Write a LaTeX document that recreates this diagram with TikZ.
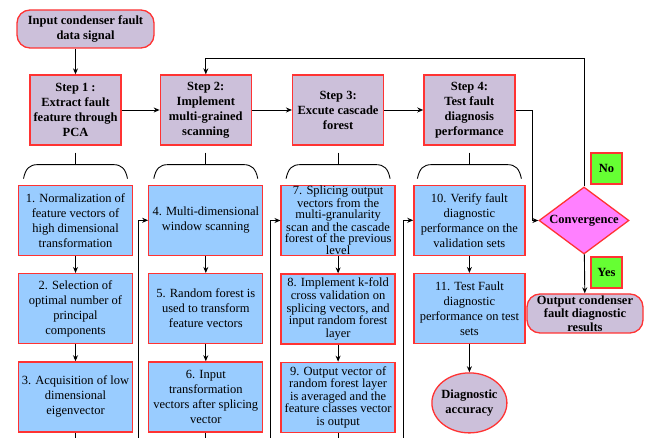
\documentclass[tikz,border=0pt]{standalone}
\usepackage{fontspec}
\setmainfont{Liberation Serif}
\usepackage{tikz}
\usetikzlibrary{shapes.geometric, arrows.meta, positioning}
\definecolor{steplilac}{RGB}{204,192,218}
\definecolor{taskblue}{RGB}{153,204,255}
\definecolor{edgered}{RGB}{255,51,51}
\definecolor{answergreen}{RGB}{102,255,51}
\definecolor{decisionpink}{RGB}{255,128,255}
\tikzset{
  base/.style={draw=edgered, line width=1.3pt, align=center, inner sep=1pt},
  stepbox/.style={base, rectangle, fill=steplilac, minimum width=91pt,
    minimum height=70pt, font=\fontsize{12.5}{15}\selectfont\bfseries},
  taskbox/.style={base, rectangle, fill=taskblue, minimum width=114pt,
    minimum height=70pt, font=\fontsize{12.5}{15}\selectfont},
  terminal/.style={base, rectangle, rounded corners=13pt, fill=steplilac,
    font=\fontsize{12.5}{15}\selectfont\bfseries},
  answer/.style={base, rectangle, fill=answergreen, minimum size=31pt,
    font=\fontsize{12.5}{15}\selectfont\bfseries},
  decision/.style={base, diamond, fill=decisionpink, minimum width=90pt,
    minimum height=67pt, inner sep=0pt},
  result/.style={base, ellipse, fill=steplilac, minimum width=75pt,
    minimum height=60pt, inner sep=0pt},
  boldlabel/.style={align=center, font=\fontsize{12.5}{15}\selectfont\bfseries},
  arrow/.style={-{Stealth[length=6pt, width=5pt]}, line width=0.9pt},
  link/.style={line width=0.9pt},
}
% curly bracket under a step box
\newcommand{\stepbrace}[1]{%
  \draw[link] (#1.south) ++(0,7) -- ++(0,12) coordinate (#1-brace);
  \draw[link] ([shift={(-52,14)}]#1-brace)
    .. controls ([shift={(-50,4)}]#1-brace) and ([shift={(-46,0)}]#1-brace)
    .. ([shift={(-38,0)}]#1-brace) -- ([shift={(38,0)}]#1-brace)
    .. controls ([shift={(46,0)}]#1-brace) and ([shift={(50,4)}]#1-brace)
    .. ([shift={(52,14)}]#1-brace);
}

\begin{document}
\begin{tikzpicture}[x=1pt, y=-1pt]
  \useasboundingbox (0,0) rectangle (648,438);

  \node[terminal, minimum width=137pt, minimum height=38pt]
    (input) at (85.5,29) {Input condenser fault\\data signal};

  % the four steps
  \node[stepbox] (pca) at (75.5,110) {Step 1 :\\Extract fault\\feature through\\PCA};
  \node[stepbox, right=38pt of pca] (scan) {Step 2:\\Implement\\multi-grained\\scanning};
  \node[stepbox, right=40pt of scan] (cascade) {Step 3:\\Excute cascade\\forest};
  \node[stepbox, right=39pt of cascade] (test) {Step 4:\\Test fault\\diagnosis\\performance};

  \stepbrace{pca}
  \stepbrace{scan}
  \stepbrace{cascade}
  \stepbrace{test}

  % step 1 tasks
  \node[taskbox, below=39pt of pca] (norm)
    {1. Normalization of\\feature vectors of\\high dimensional\\transformation};
  \node[taskbox, below=17pt of norm] (select)
    {2. Selection of\\optimal number of\\principal\\components};
  \node[taskbox, below=17pt of select] (eigen)
    {3. Acquisition of low\\dimensional\\eigenvector};

  % step 2 tasks
  \node[taskbox, below=39pt of scan] (window)
    {4. Multi-dimensional\\window scanning};
  \node[taskbox, below=17pt of window] (rftrans)
    {5. Random forest is\\used to transform\\feature vectors};
  \node[taskbox, below=17pt of rftrans] (splicevec)
    {6. Input\\transformation\\vectors after splicing\\vector};

  % step 3 tasks
  \node[taskbox, below=39pt of cascade, font=\fontsize{12.5}{11.2}\selectfont] (splice)
    {7. Splicing output\\vectors from the\\multi-granularity\\scan and the cascade\\forest of the previous\\level};
  \node[taskbox, below=17pt of splice, font=\fontsize{12.5}{12.6}\selectfont] (kfold)
    {8. Implement k-fold\\cross validation on\\splicing vectors, and\\input random forest\\layer};
  \node[taskbox, below=17pt of kfold, font=\fontsize{12.5}{12.6}\selectfont] (average)
    {9. Output vector of\\random forest layer\\is averaged and the\\feature classes vector\\is output};

  % step 4 tasks
  \node[taskbox, minimum width=111pt, below=39pt of test] (verify)
    {10. Verify fault\\diagnostic\\performance on the\\validation sets};
  \node[taskbox, minimum width=111pt, below=17pt of verify] (testset)
    {11. Test Fault\\diagnostic\\performance on test\\sets};
  \node[result, below=28pt of testset,
        label={[boldlabel]center:Diagnostic\\accuracy}] (accuracy) {};

  % decision
  \node[decision, label={[boldlabel]center:Convergence}] (conv) at (584,220.5) {};
  \node[answer] (no) at (606.5,168.5) {No};
  \node[answer] (yes) at (606.5,272.5) {Yes};
  \node[terminal, minimum width=116pt, minimum height=39pt, inner sep=0pt,
        font=\fontsize{12.5}{13.5}\selectfont\bfseries]
    (output) at (585,313.5) {Output condenser\\fault diagnostic\\results};

  % connectors
  \draw[arrow] (input.south -| pca) -- (pca);
  \draw[arrow] (pca) -- (scan);
  \draw[arrow] (scan) -- (cascade);
  \draw[arrow] (cascade) -- (test);
  \draw[arrow] (test.east) -- ++(17,0) |- (conv.west);
  \draw[arrow] (conv.north) -- ++(0,-128) -| (scan.north);
  \draw[arrow] (conv) -- (output);

  \draw[arrow] (norm) -- (select);
  \draw[arrow] (select) -- (eigen);
  \draw[arrow] (window) -- (rftrans);
  \draw[arrow] (rftrans) -- (splicevec);
  \draw[arrow] (splice) -- (kfold);
  \draw[arrow] (kfold) -- (average);
  \draw[arrow] (verify) -- (testset);
  \draw[arrow] (testset) -- (accuracy);

  \draw[arrow] (eigen.south) -- ++(0,9) -| ([xshift=-10pt]window.west) -- (window.west);
  \draw[arrow] (splicevec.south) -- ++(0,9) -| ([xshift=-10pt]splice.west) -- (splice.west);
  \draw[arrow] (average.south) -- ++(0,9) -| ([xshift=-10pt]verify.west) -- (verify.west);
\end{tikzpicture}
\end{document}
